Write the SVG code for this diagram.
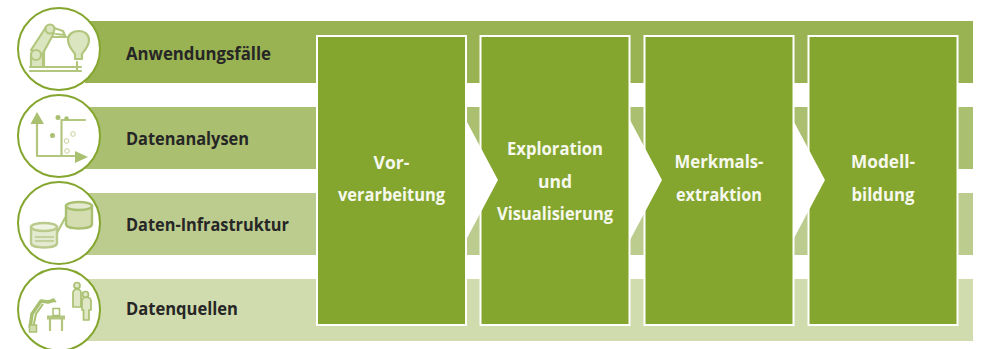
<svg xmlns="http://www.w3.org/2000/svg" width="983" height="349" viewBox="0 0 983 349">
<style>
.t{font-family:"Open Sans","Noto Sans","Liberation Sans",sans-serif;font-weight:600;font-size:17.5px}
.l{fill:#262626;font-weight:700}
.w{fill:#f6f8ee;text-anchor:middle;font-weight:700}
.box{fill:#84a62e;stroke:#fff;stroke-width:2}
.ring{fill:#fff;stroke:#84a62e;stroke-width:2}
.ic{fill:none;stroke:#b2c67e;stroke-width:2.200;stroke-linecap:round;stroke-linejoin:round}
.if{fill:#dbe5c0;stroke:#b2c67e;stroke-width:2.200;stroke-linejoin:round}
.is{fill:#a9c070}
.arrow{fill:#fff}
</style>
<rect width="983" height="349" fill="#fff"/>
<g id="bands">
<rect x="85" y="21" width="888" height="62" fill="#9ab352"/>
<rect x="85" y="107" width="888" height="62" fill="#abbf70"/>
<rect x="85" y="193" width="888" height="62" fill="#bccb8e"/>
<rect x="85" y="279" width="888" height="62" fill="#d0dbae"/>
</g>
<g id="node-anwendungsfaelle">
<circle class="ring" cx="59" cy="49" r="41"/>
<path class="ic" d="M30 71H81M30 67H81M44 67V44M45 37H67M77 62V71"/>
<path class="if" d="M31 67V55C31 48 43 48 43 55V67Z"/>
<path class="if" d="M31 50L46 27L54 33L42 55Z"/>
<circle class="if" cx="36" cy="55" r="5"/>
<circle class="if" cx="50" cy="29" r="4.500"/>
<path class="ic" d="M54 28L63 31L65 36M56 34L65 35"/>
<path class="if" d="M75 59V54C72 50 68 46 68 40C68 34 73 31 79 31C85 31 89 35 89 40C89 46 85 50 82 54V59Z"/>
<text class="t l" x="126" y="60" textLength="145" lengthAdjust="spacingAndGlyphs">Anwendungsfälle</text>
</g>
<g id="node-datenanalysen">
<circle class="ring" cx="59" cy="136" r="41"/>
<path class="ic" d="M37 123V156H76M61.500 156V120H85"/>
<path class="is" d="M37 112L44 124H30.500ZM75 151L88 157L75 163Z"/>
<circle class="is" cx="58" cy="117.500" r="2.500"/>
<circle class="is" cx="66.500" cy="118.500" r="2.200"/>
<circle class="is" cx="52.500" cy="135.500" r="2.500"/>
<g fill="#fff" stroke="#c3d198" stroke-width="1"><circle cx="73" cy="134" r="2.300"/><circle cx="66.500" cy="141" r="2.300"/><circle cx="67" cy="151" r="2.300"/></g>
<text class="t l" x="126" y="145" textLength="123" lengthAdjust="spacingAndGlyphs">Datenanalysen</text>
</g>
<g id="node-daten-infrastruktur">
<circle class="ring" cx="59" cy="223" r="41"/>
<path class="ic" d="M57 233L65 218"/>
<path d="M31 227V243C31 249 57 249 57 243V227Z" fill="#e3ead0" stroke="#b9ca8c" stroke-width="2.400"/>
<ellipse cx="44" cy="227" rx="13" ry="4" fill="#eef2e0" stroke="#b9ca8c" stroke-width="2.400"/>
<path d="M35 237H54M35 241H54" fill="none" stroke="#b9ca8c" stroke-width="1.600"/>
<path d="M66 206V224C66 230 92 230 92 224V206Z" fill="#d3ddb0" stroke="#a9c070" stroke-width="2.400"/>
<ellipse cx="79" cy="206" rx="13" ry="4" fill="#e3ead0" stroke="#a9c070" stroke-width="2.400"/>
<text class="t l" x="126" y="231" textLength="163" lengthAdjust="spacingAndGlyphs">Daten-Infrastruktur</text>
</g>
<g id="node-datenquellen">
<circle class="ring" cx="59" cy="309.500" r="41"/>
<path d="M30 328L32 314L41 301L48 302L55 300" fill="none" stroke="#a9c070" stroke-width="3.500" stroke-linejoin="round"/>
<path d="M33 328L36 314L43 304" fill="none" stroke="#a9c070" stroke-width="2"/>
<path d="M52 299L56 302" fill="none" stroke="#a9c070" stroke-width="2"/>
<rect x="29.500" y="325" width="7" height="7" fill="#d3ddb0" stroke="#a9c070" stroke-width="1.500"/>
<path d="M47 317.500H65" stroke="#b2c67e" stroke-width="4"/>
<path d="M50 318V331M62 318V331" stroke="#b2c67e" stroke-width="2.200"/>
<rect x="53" y="308.500" width="6.500" height="7" fill="#fff" stroke="#a9c070" stroke-width="1.500"/>
<g fill="#dfe7c7" stroke="#a9c070" stroke-width="1.700" stroke-linejoin="round">
<circle cx="77" cy="285.500" r="3"/><path d="M73 307V293C73 288 81 288 81 293V307Z"/>
<circle cx="85.500" cy="294.500" r="3"/><path d="M82 310V301C82 296 91 296 91 301V310H89V320H83.500V310Z"/>
</g>
<text class="t l" x="126" y="315" textLength="112" lengthAdjust="spacingAndGlyphs">Datenquellen</text>
</g>
<g id="node-vorverarbeitung">
<rect class="box" x="317" y="36" width="149" height="289"/>
<text class="t w" x="391.500" y="169">Vor-</text>
<text class="t w" x="391.500" y="201" textLength="107" lengthAdjust="spacingAndGlyphs">verarbeitung</text>
</g>
<g id="node-exploration">
<rect class="box" x="480.500" y="36" width="149" height="289"/>
<text class="t w" x="555" y="155" textLength="96" lengthAdjust="spacingAndGlyphs">Exploration</text>
<text class="t w" x="555" y="188">und</text>
<text class="t w" x="555" y="220" textLength="116" lengthAdjust="spacingAndGlyphs">Visualisierung</text>
</g>
<g id="node-merkmalsextraktion">
<rect class="box" x="644.500" y="36" width="149" height="289"/>
<text class="t w" x="719" y="168" textLength="89" lengthAdjust="spacingAndGlyphs">Merkmals-</text>
<text class="t w" x="719" y="201" textLength="86" lengthAdjust="spacingAndGlyphs">extraktion</text>
</g>
<g id="node-modellbildung">
<rect class="box" x="808.500" y="36" width="149" height="289"/>
<text class="t w" x="883" y="168" textLength="64" lengthAdjust="spacingAndGlyphs">Modell-</text>
<text class="t w" x="883" y="201" textLength="63" lengthAdjust="spacingAndGlyphs">bildung</text>
</g>
<g id="connectors">
<path class="arrow" d="M466 120L498 180L466 240Z"/>
<path class="arrow" d="M630 120L662 180L630 240Z"/>
<path class="arrow" d="M793 120L825 180L793 240Z"/>
</g>
</svg>
